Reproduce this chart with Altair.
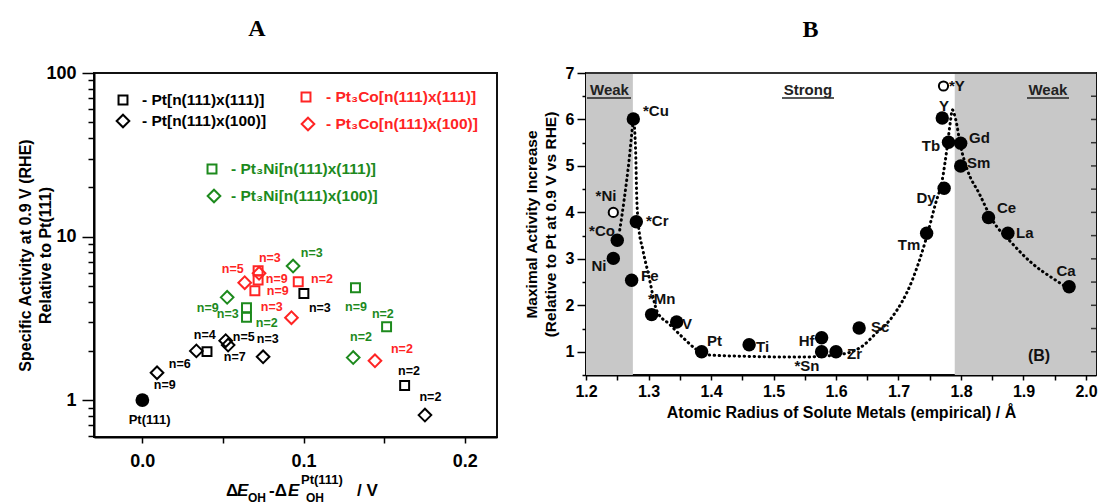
import altair as alt
import pandas as pd

FONT = "Liberation Sans"
RED = "#ff2424"
GREEN = "#1d8a1d"
BLACK = "#000000"

# ---------------- Panel A data ----------------
pt111_x = [0.0]
pt111_y = [1.0]
pt_sq_x = [0.0401, 0.1002, 0.1627]
pt_sq_y = [1.98, 4.49, 1.23]
pt_di_x = [0.0091, 0.0335, 0.0517, 0.0532, 0.0749, 0.1753]
pt_di_y = [1.47, 2.00, 2.31, 2.17, 1.84, 0.81]
co_sq_x = [0.0718, 0.0718, 0.0698, 0.0967]
co_sq_y = [6.18, 5.42, 4.66, 5.29]
co_di_x = [0.0635, 0.0724, 0.0925, 0.1443]
co_di_y = [5.22, 5.96, 3.19, 1.74]
ni_sq_x = [0.0646, 0.0646, 0.1322, 0.1515]
ni_sq_y = [3.67, 3.21, 4.86, 2.81]
ni_di_x = [0.0526, 0.0935, 0.1308]
ni_di_y = [4.25, 6.60, 1.82]

nlab_text = ["n=9", "n=6", "n=4", "n=5", "n=3", "n=7", "n=3", "n=2", "n=2",
             "n=3", "n=5", "n=9", "n=2", "n=9", "n=3", "n=2",
             "n=3", "n=9", "n=3", "n=2", "n=9", "n=2", "n=2"]
nlab_x = [0.0139, 0.0232, 0.0387, 0.0629, 0.0778, 0.0573, 0.1101, 0.1654, 0.1787,
          0.0791, 0.0561, 0.0834, 0.1114, 0.0840, 0.0803, 0.1610,
          0.1051, 0.0406, 0.0530, 0.0772, 0.1325, 0.1492, 0.1356]
nlab_y = [1.235, 1.66, 2.50, 2.43, 2.36, 1.83, 3.65, 1.50, 1.04,
          7.39, 6.33, 5.50, 5.50, 4.64, 3.70, 2.05,
          7.93, 3.65, 3.36, 2.96, 3.70, 3.36, 2.43]
nlab_color = [BLACK] * 9 + [RED] * 7 + [GREEN] * 7

legend_text = ["- Pt[n(111)x(111)]", "- Pt[n(111)x(100)]",
               "- Pt\u2083Co[n(111)x(111)]", "- Pt\u2083Co[n(111)x(100)]",
               "- Pt\u2083Ni[n(111)x(111)]", "- Pt\u2083Ni[n(111)x(100)]"]
legend_shape = ["square", "diamond", "square", "diamond", "square", "diamond"]
legend_color = [BLACK, BLACK, RED, RED, GREEN, GREEN]

# ---------------- Panel B data ----------------
b_name = ["Ni", "*Co", "*Cu", "*Cr", "Fe", "*Mn", "V", "Pt", "Ti", "Hf", "Sn", "Zr",
          "Sc", "Tm", "Dy", "Y", "Tb", "Gd", "Sm", "Ce", "La", "Ca"]
b_x = [1.2437, 1.2500, 1.2757, 1.2805, 1.2730, 1.3050, 1.3450, 1.3850, 1.4610, 1.5770,
       1.5770, 1.6000, 1.6370, 1.7450, 1.7730, 1.7700, 1.7800, 1.7995, 1.7995, 1.8440,
       1.8750, 1.9730]
b_y = [3.01, 3.40, 6.01, 3.80, 2.54, 1.80, 1.64, 1.00, 1.15, 1.30, 1.00, 1.00, 1.51,
       3.55, 4.52, 6.03, 5.51, 5.49, 5.00, 3.89, 3.55, 2.40]
b_open_name = ["*Ni", "*Y"]
b_open_x = [1.2437, 1.7720]
b_open_y = [4.00, 6.72]

curve_x = [1.254, 1.261, 1.269, 1.275, 1.2757, 1.2795, 1.281, 1.2837, 1.291, 1.2997,
           1.314, 1.333, 1.354, 1.3755, 1.3915, 1.46, 1.54, 1.60, 1.64, 1.6635, 1.69,
           1.722, 1.7435, 1.7595, 1.770, 1.778, 1.7835, 1.786, 1.7915, 1.7995, 1.810,
           1.829, 1.850, 1.882, 1.914, 1.9515, 1.9675]
curve_y = [3.62, 4.27, 5.13, 5.92, 6.00, 5.28, 4.41, 3.76, 3.19, 2.68,
           1.86, 1.60, 1.32, 1.06, 0.935, 0.90, 0.885, 0.93, 1.10, 1.39, 1.75,
           2.54, 3.40, 4.20, 4.70, 5.42, 6.00, 6.21, 6.00, 5.42, 4.92,
           4.41, 3.84, 3.33, 2.90, 2.54, 2.40]

blab_text = ["*Cu", "*Ni", "*Co", "Ni", "Fe", "*Cr", "*Mn", "V", "Pt", "Ti", "Hf", "*Sn",
             "Zr", "Sc", "Tm", "Dy", "Tb", "Y", "*Y", "Gd", "Sm", "Ce", "La", "Ca"]
blab_x = [1.2912, 1.2320, 1.2256, 1.2208, 1.2880, 1.2960, 1.2992, 1.3536, 1.3936, 1.4720,
          1.5530, 1.5536, 1.6176, 1.6560, 1.7168, 1.7440, 1.7520, 1.7728, 1.7808, 1.8128,
          1.8096, 1.8576, 1.8880, 1.9680]
blab_y = [6.18, 4.35, 3.61, 2.84, 2.64, 3.81, 2.14, 1.60, 1.24, 1.11,
          1.24, 0.70, 0.96, 1.54, 3.29, 4.30, 5.43, 6.29, 6.72, 5.60,
          5.06, 4.09, 3.55, 2.73]
blab_align = ["left", "center", "center", "center", "left", "left", "left", "left", "left", "left",
              "center", "center", "left", "left", "center", "center", "center", "center", "left", "left",
              "left", "left", "left", "center"]

shade_x1 = [1.2, 1.79]
shade_x2 = [1.275, 2.016]
region_text = ["Weak", "Strong", "Weak"]
region_x = [1.2376, 1.555, 1.939]
region_y = [6.64, 6.64, 6.64]
region_ux1 = [1.2016, 1.5136, 1.9056]
region_ux2 = [1.2720, 1.5968, 1.9728]
region_uy = [6.46, 6.46, 6.46]

yA_ticks = [0.6, 0.7, 0.8, 0.9, 1, 2, 3, 4, 5, 6, 7, 8, 9, 10, 20, 30, 40, 50, 60, 70, 80, 90, 100]
xA_ticks = [0.0, 0.05, 0.1, 0.15, 0.2]
xB_ticks = [1.2, 1.25, 1.3, 1.35, 1.4, 1.45, 1.5, 1.55, 1.6, 1.65, 1.7, 1.75, 1.8, 1.85, 1.9, 1.95, 2.0]
yB_ticks = [0.5, 1, 1.5, 2, 2.5, 3, 3.5, 4, 4.5, 5, 5.5, 6, 6.5, 7]
yB_right = [1, 1.5, 2, 2.5, 3, 3.5, 4, 4.5, 5, 5.5, 6, 6.5]

WA, HA = 403, 364
WB, HB = 510, 302

# ---------------- Panel A ----------------
tenth_expr = "abs(datum.value*10-round(datum.value*10))<0.001 ? format(datum.value,'.1f') : ''"
xA = alt.X("x:Q", scale=alt.Scale(domain=[-0.03, 0.22], nice=False, zero=False),
           axis=alt.Axis(values=xA_ticks, labelExpr=tenth_expr, tickSize=6, labelPadding=9,
                         labelFontSize=18, title=None))
yA = alt.Y("y:Q", scale=alt.Scale(type="log", domain=[0.595, 100], nice=False),
           axis=alt.Axis(values=yA_ticks,
                         labelExpr="(datum.value==1||datum.value==10||datum.value==100) ? datum.value+'' : ''",
                         tickSize=alt.condition("datum.value==1||datum.value==10||datum.value==100",
                                                alt.value(12), alt.value(6)),
                         labelPadding=6, labelFontSize=18,
                         title=["Specific Activity at 0.9 V (RHE)", "Relative to Pt(111)"],
                         titleFontSize=16, titleLineHeight=20, titleX=-61))

rows = []
for xs, ys, shp, col in [(pt_sq_x, pt_sq_y, "square", BLACK), (pt_di_x, pt_di_y, "diamond", BLACK),
                         (co_sq_x, co_sq_y, "square", RED), (co_di_x, co_di_y, "diamond", RED),
                         (ni_sq_x, ni_sq_y, "square", GREEN), (ni_di_x, ni_di_y, "diamond", GREEN)]:
    for a, b in zip(xs, ys):
        rows.append({"x": a, "y": b, "shape": shp, "c": col, "s": 80 if shp == "square" else 160})
dfA = pd.DataFrame(rows)

markersA = alt.Chart(dfA).mark_point(filled=False, strokeWidth=2, opacity=1).encode(
    x=xA, y=yA,
    shape=alt.Shape("shape:N", scale=None),
    color=alt.Color("c:N", scale=None),
    size=alt.Size("s:Q", scale=None))

pt111 = alt.Chart(pd.DataFrame({"x": pt111_x, "y": pt111_y})).mark_point(
    filled=True, shape="circle", size=190, color="black", opacity=1).encode(x=xA, y=yA)
pt111_lab = alt.Chart(pd.DataFrame({"x": [0.0045], "y": [0.755], "t": ["Pt(111)"]})).mark_text(
    font=FONT, fontSize=13, fontWeight="bold", color="black").encode(x=xA, y=yA, text="t:N")

nlabs = alt.Chart(pd.DataFrame({"x": nlab_x, "y": nlab_y, "t": nlab_text, "c": nlab_color})).mark_text(
    font=FONT, fontSize=12.5, fontWeight="bold").encode(x=xA, y=yA, text="t:N", color=alt.Color("c:N", scale=None))

dummy = pd.DataFrame({"d": [0]})
leg_pos = [(29, 27, 48), (29, 48, 48), (212, 24, 232), (214, 51, 232), (118, 96, 137), (120, 123, 137)]
legend_layers = []
for (mx, my, tx), txt, shp, col in zip(leg_pos, legend_text, legend_shape, legend_color):
    legend_layers.append(alt.Chart(dummy).mark_point(
        shape=shp, filled=False, strokeWidth=2, color=col, opacity=1,
        size=80 if shp == "square" else 160).encode(x=alt.value(mx), y=alt.value(my)))
    legend_layers.append(alt.Chart(dummy).mark_text(
        text=txt, font=FONT, fontSize=15.5, fontWeight="bold", color=col, align="left",
        baseline="middle").encode(x=alt.value(tx), y=alt.value(my)))

# x-axis title pieces (Delta E_OH - Delta E_OH^Pt(111) / V)
xt_pieces = [("\u0394", 132, 423, 17, "normal"), ("E", 143, 423, 17, "italic"),
             ("OH", 154, 429, 12, "normal"), ("-\u0394", 175, 423, 17, "normal"),
             ("E", 194, 423, 17, "italic"), ("Pt(111)", 207, 411, 13, "normal"),
             ("OH", 212, 429, 12, "normal"), ("/ V", 263, 423, 17, "normal")]
xt_layers = []
for t, px, py, fs, st in xt_pieces:
    xt_layers.append(alt.Chart(dummy).mark_text(
        text=t, font=FONT, fontSize=fs, fontWeight="bold", fontStyle=st, color="black",
        align="left", baseline="alphabetic").encode(x=alt.value(px), y=alt.value(py)))

panelA = alt.layer(markersA, pt111, pt111_lab, nlabs, *legend_layers, *xt_layers).properties(
    width=WA, height=HA,
    title=alt.TitleParams("A", font="Liberation Serif", fontSize=24, fontWeight="bold",
                          anchor="middle", frame="bounds", offset=23, color="black"))

# ---------------- Panel B ----------------
xB = alt.X("x:Q", scale=alt.Scale(domain=[1.2, 2.016], nice=False, zero=False),
           axis=alt.Axis(values=xB_ticks, labelExpr=tenth_expr, tickSize=5, labelPadding=3,
                         title="Atomic Radius of Solute Metals (empirical) / \u00c5",
                         titleFontSize=16, titlePadding=5))
yB = alt.Y("y:Q", scale=alt.Scale(domain=[0.5, 7], nice=False, zero=False),
           axis=alt.Axis(values=yB_ticks, labelExpr="datum.value%1==0 ? datum.value+'' : ''",
                         tickSize=alt.condition("datum.value%1==0", alt.value(9), alt.value(4)),
                         labelPadding=3,
                         title=["Maximal Activity Increase", "(Relative to Pt at 0.9 V vs RHE)"],
                         titleFontSize=15.5, titleLineHeight=19, titlePadding=7))

shade = alt.Chart(pd.DataFrame({"x": shade_x1, "x2": shade_x2, "y": [0.5, 0.5], "y2": [7, 7]})).mark_rect(
    color="#c8c8c8").encode(x=xB, x2="x2:Q", y=yB, y2="y2:Q")
topline = alt.Chart(dummy).mark_rule(color="#333333", strokeWidth=2).encode(
    x=alt.value(0), x2=alt.value(WB), y=alt.value(0))
rtick = alt.Chart(pd.DataFrame({"y": yB_right})).mark_rule(color="#333333", strokeWidth=1.5).encode(
    y=yB, x=alt.value(WB - 5), x2=alt.value(WB))
curve = alt.Chart(pd.DataFrame({"x": curve_x, "y": curve_y})).mark_line(
    color="black", strokeWidth=3, strokeDash=[0.5, 4.5], strokeCap="round",
    interpolate="monotone").encode(x=xB, y=yB, order="x:Q")
dots = alt.Chart(pd.DataFrame({"x": b_x, "y": b_y, "n": b_name})).mark_point(
    filled=True, shape="circle", size=180, color="black", opacity=1).encode(x=xB, y=yB)
opens = alt.Chart(pd.DataFrame({"x": b_open_x, "y": b_open_y, "n": b_open_name})).mark_point(
    filled=True, shape="circle", size=85, fill="white", stroke="black", strokeWidth=2, opacity=1).encode(x=xB, y=yB)
blab_layers = []
for al in ["left", "center"]:
    sel = [i for i, a in enumerate(blab_align) if a == al]
    blab_layers.append(alt.Chart(pd.DataFrame({
        "x": [blab_x[i] for i in sel], "y": [blab_y[i] for i in sel], "t": [blab_text[i] for i in sel]})).mark_text(
        font=FONT, fontSize=15, fontWeight="bold", color="#111111", align=al, baseline="middle").encode(
        x=xB, y=yB, text="t:N"))
regions = alt.Chart(pd.DataFrame({"x": region_x, "y": region_y, "t": region_text})).mark_text(
    font=FONT, fontSize=15, fontWeight="bold", color="#222222", baseline="middle").encode(x=xB, y=yB, text="t:N")
underl = alt.Chart(pd.DataFrame({"x": region_ux1, "x2": region_ux2, "y": region_uy})).mark_rule(
    color="#222222", strokeWidth=1.5).encode(x=xB, x2="x2:Q", y=yB)
btag = alt.Chart(pd.DataFrame({"x": [1.9248], "y": [0.91], "t": ["(B)"]})).mark_text(
    font=FONT, fontSize=16, fontWeight="bold", color="#111111").encode(x=xB, y=yB, text="t:N")

panelB = alt.layer(shade, topline, rtick, curve, dots, opens, *blab_layers, regions, underl, btag).properties(
    width=WB, height=HB,
    title=alt.TitleParams("B", font="Liberation Serif", fontSize=24, fontWeight="bold",
                          anchor="middle", frame="bounds", offset=23, color="black"))

chart = alt.hconcat(panelA, panelB, spacing=89, bounds="flush").properties(
    padding={"left": 16, "top": 16, "right": 0, "bottom": 0}, background="white"
).configure_view(stroke="#111111", strokeWidth=2).configure_axis(
    labelFont=FONT, labelFontSize=16, labelFontWeight="bold", labelColor="black",
    titleFont=FONT, titleFontWeight="bold", titleColor="black",
    domainColor="black", domainWidth=2, tickColor="black", tickWidth=1.5,
    grid=False, labelOverlap=False, labelFlush=False, zindex=1
)

chart.save("out.html", embed_options={"renderer": "svg", "actions": False})
